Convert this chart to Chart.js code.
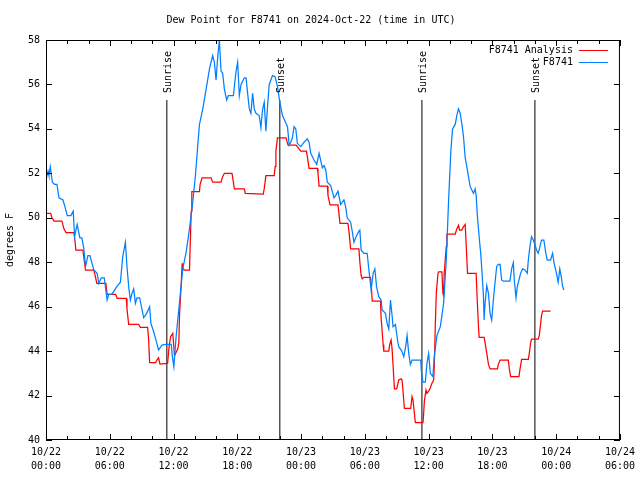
<!DOCTYPE html>
<html>
<head>
<meta charset="utf-8">
<script src="https://cdn.jsdelivr.net/npm/chart.js@4.4.1/dist/chart.umd.min.js"></script>
<style>
  html, body { margin: 0; padding: 0; background: #fff; }
</style>
</head>
<body>
<canvas id="dew" width="640" height="480"></canvas>
<script>
// hours since 10/22 00:00 UTC
const analysisHours = [0,0.44,0.56,0.75,1.5,1.69,1.88,2.63,2.72,2.81,3.47,3.56,3.72,4.5,4.63,4.78,5.63,5.75,6.56,6.69,7.56,7.62,7.78,8.72,8.88,9.56,9.66,9.75,10.31,10.43,10.59,10.72,11.44,11.56,11.72,11.93,12.09,12.4,12.5,12.56,12.72,12.81,12.87,13.03,13.5,13.66,13.72,14.44,14.5,14.69,15.53,15.68,16.47,16.62,16.78,17.5,17.63,17.72,18.66,18.75,20.44,20.53,20.69,21.47,21.56,21.63,21.78,22.59,22.72,22.78,23.53,23.97,24.5,24.59,24.75,25.53,25.59,25.69,26.47,26.53,26.72,27.47,27.56,27.66,28.41,28.5,28.66,29.44,29.53,29.65,29.75,29.91,30.53,30.63,30.69,31.47,31.53,31.72,31.78,32.25,32.34,32.47,32.56,32.65,32.78,33.0,33.09,33.19,33.41,33.5,33.59,33.72,34.31,34.44,34.53,34.66,34.75,35.47,35.53,35.6,35.75,35.84,36.0,36.16,36.31,36.47,36.53,36.63,36.72,36.88,36.94,37.25,37.34,37.41,37.47,37.56,37.66,37.72,38.5,38.65,38.81,38.91,39.12,39.28,39.44,39.53,39.66,40.38,40.47,40.59,40.69,40.75,41.22,41.34,41.47,41.63,41.78,42.47,42.56,42.72,43.5,43.59,43.72,44.5,44.6,44.75,45.38,45.47,45.59,45.68,46.31,46.41,46.53,46.62,46.72,47.47];
const analysisDew = [50.2,50.2,50.0,49.85,49.85,49.5,49.33,49.33,49.0,48.55,48.55,48.2,47.65,47.65,47.4,47.05,47.05,46.55,46.55,46.37,46.37,45.9,45.2,45.2,45.07,45.07,44.5,43.48,43.48,43.6,43.7,43.42,43.45,44.1,44.65,44.8,43.8,44.1,44.4,45.6,47.0,47.95,47.7,47.65,47.65,50.3,51.18,51.18,51.5,51.8,51.8,51.6,51.6,51.85,52.0,52.0,51.6,51.3,51.3,51.1,51.07,51.3,51.9,51.9,52.3,53.0,53.6,53.6,53.35,53.27,53.27,53.0,53.0,52.75,52.22,52.22,52.0,51.43,51.43,51.0,50.58,50.58,50.2,49.75,49.75,49.4,48.6,48.6,48.0,47.4,47.25,47.32,47.32,46.75,46.25,46.25,45.5,44.3,44.0,44.0,44.3,44.5,44.1,43.4,42.3,42.3,42.5,42.7,42.75,42.7,42.2,41.42,41.42,41.95,41.8,41.2,40.78,40.78,41.2,41.75,42.25,42.1,42.2,42.35,42.55,42.7,43.3,45.2,46.6,47.5,47.57,47.57,46.6,46.5,47.5,48.1,48.7,49.27,49.27,49.5,49.67,49.45,49.45,49.6,49.7,48.8,47.5,47.5,47.5,46.1,45.1,44.62,44.62,44.3,43.9,43.4,43.2,43.2,43.4,43.6,43.6,43.2,42.85,42.85,43.2,43.63,43.63,43.9,44.35,44.54,44.54,44.7,45.2,45.6,45.8,45.8];

const stationHours = [0,0.19,0.28,0.4,0.6,0.8,1.03,1.22,1.6,1.78,2.0,2.34,2.56,2.69,2.93,3.19,3.38,3.56,3.72,3.94,4.13,4.5,4.81,4.97,5.2,5.48,5.75,5.9,6.19,6.66,7.0,7.22,7.47,7.62,7.78,7.94,8.09,8.25,8.41,8.56,8.81,9.19,9.47,9.75,9.87,10.13,10.43,10.59,10.9,11.25,11.78,11.88,12.03,12.25,12.56,12.87,13.19,13.5,13.81,14.06,14.28,14.44,14.75,15.07,15.38,15.68,15.84,16.0,16.15,16.31,16.47,16.62,16.78,17.0,17.16,17.63,17.88,18.03,18.19,18.35,18.66,18.82,18.97,19.13,19.28,19.44,19.59,19.75,20.06,20.22,20.37,20.53,20.69,20.84,21.0,21.31,21.56,21.78,22.0,22.25,22.57,22.72,22.88,23.03,23.18,23.34,23.5,23.65,23.97,24.28,24.59,24.75,24.91,25.22,25.47,25.69,25.84,26.0,26.16,26.32,26.47,26.78,26.93,27.09,27.25,27.47,27.72,28.03,28.19,28.34,28.66,28.81,28.97,29.13,29.44,29.53,29.65,29.91,30.22,30.38,30.59,30.78,30.94,31.1,31.31,31.53,31.62,31.94,32.09,32.25,32.41,32.56,32.65,32.88,33.07,33.19,33.47,33.66,33.84,33.97,34.13,34.28,34.44,35.25,35.32,35.47,35.69,35.84,36.0,36.16,36.4,36.53,36.78,37.1,37.41,37.66,37.88,38.09,38.25,38.5,38.65,38.81,38.97,39.12,39.28,39.44,39.59,39.75,39.91,40.22,40.38,40.47,40.59,40.78,40.9,41.03,41.16,41.22,41.31,41.47,41.63,41.78,41.93,42.09,42.25,42.4,42.56,42.72,42.87,43.03,43.65,43.81,43.97,44.06,44.22,44.34,44.5,44.65,44.84,45.06,45.28,45.38,45.53,45.68,45.84,46.0,46.15,46.31,46.47,46.62,46.84,47.03,47.16,47.47,47.66,47.81,48.03,48.19,48.34,48.5,48.59,48.72];
const stationDew = [51.7,52.1,51.9,52.3,51.6,51.5,51.5,50.9,50.8,50.5,50.1,50.1,50.3,49.15,49.7,49.1,49.1,48.6,47.8,48.3,48.3,47.65,47.5,47.05,47.3,47.3,46.3,46.55,46.55,46.9,47.1,48.25,48.9,47.8,46.9,46.3,46.6,46.8,46.15,46.4,46.4,45.5,45.7,46.0,45.25,44.87,44.35,44.05,44.27,44.3,44.3,43.8,43.3,44.7,46.2,47.7,48.47,49.5,50.72,51.9,53.27,54.2,54.9,55.8,56.7,57.3,57.0,56.2,57.2,58.0,56.6,56.5,55.8,55.3,55.5,55.5,56.6,57.0,55.5,56.0,56.3,56.3,55.6,54.9,54.7,55.6,54.9,54.7,54.6,54.05,54.85,55.2,53.9,55.0,56.0,56.4,56.35,55.9,55.2,54.6,54.25,54.1,53.27,53.4,53.6,54.1,54.0,53.35,53.2,53.4,53.55,53.4,52.9,52.6,52.4,52.9,52.6,52.25,52.35,52.15,51.6,51.45,51.2,50.9,51.0,51.2,50.6,50.8,50.5,50.0,49.8,49.4,48.9,49.1,49.4,49.45,48.55,48.4,48.4,47.65,46.75,47.5,47.7,46.9,46.45,46.3,45.85,45.7,45.25,45.0,46.3,45.6,45.1,45.2,44.5,44.2,44.0,43.75,44.2,44.7,43.9,43.4,43.6,43.6,43.1,42.6,42.6,43.45,43.9,43.0,42.85,43.75,44.7,45.1,46.15,48.1,50.8,53.0,54.0,54.2,54.6,54.9,54.7,54.25,53.65,52.7,52.3,51.85,51.4,51.1,51.3,51.0,50.05,49.0,48.4,47.5,46.45,45.4,46.15,46.95,46.6,45.7,45.4,46.3,47.1,47.8,47.9,47.9,47.2,47.15,47.15,47.7,47.98,47.2,46.4,46.9,47.2,47.5,47.7,47.65,47.5,48.1,48.7,49.15,49.0,48.8,48.55,48.4,48.7,49.0,49.0,48.4,48.1,48.1,48.4,47.95,47.5,47.1,47.7,47.3,46.95,46.75];

const sunHours = [11.37, 22.0, 35.37, 46.0];
const sunLabels = ["Sunrise", "Sunset", "Sunrise", "Sunset"];
const sunLineTop = 55.3;

const xTickLabels = [
  ["10/22", "00:00"], ["10/22", "06:00"], ["10/22", "12:00"], ["10/22", "18:00"],
  ["10/23", "00:00"], ["10/23", "06:00"], ["10/23", "12:00"], ["10/23", "18:00"],
  ["10/24", "00:00"], ["10/24", "06:00"]
];

const MONO = "'DejaVu Sans Mono', 'Liberation Mono', monospace";

function pairs(xs, ys) {
  return xs.map((h, i) => ({ x: h, y: ys[i] }));
}

const sunSets = sunHours.map((h, i) => ({
  label: sunLabels[i],
  data: [{ x: h, y: 40 }, { x: h, y: sunLineTop }],
  borderColor: "#000",
  borderWidth: 1,
  pointRadius: 0,
  order: 3,
  sun: true
}));

// frame, inward ticks, sun labels and key drawn gnuplot-style
const gnuplotBits = {
  id: "gnuplotBits",
  afterDraw(chart) {
    const { ctx, chartArea: a, scales: { x, y } } = chart;
    ctx.save();
    ctx.strokeStyle = "#000";
    ctx.lineWidth = 1;
    ctx.strokeRect(a.left + 0.5, a.top + 0.5, a.right - a.left - 1, a.bottom - a.top - 1);

    ctx.beginPath();
    for (let h = 0; h <= 54; h += 2) {
      const px = Math.round(x.getPixelForValue(h)) + 0.5;
      const len = h % 6 === 0 ? 6 : 4;
      ctx.moveTo(px, a.bottom); ctx.lineTo(px, a.bottom - len);
      ctx.moveTo(px, a.top); ctx.lineTo(px, a.top + len);
    }
    for (let v = 40; v <= 58; v += 2) {
      const py = Math.round(y.getPixelForValue(v)) + 0.5;
      ctx.moveTo(a.left, py); ctx.lineTo(a.left + 6, py);
      ctx.moveTo(a.right, py); ctx.lineTo(a.right - 6, py);
    }
    ctx.stroke();

    ctx.fillStyle = "#000";
    ctx.font = "10px " + MONO;
    ctx.textBaseline = "middle";
    ctx.textAlign = "left";
    sunHours.forEach((h, i) => {
      const px = Math.round(x.getPixelForValue(h)) + 1;
      const py = y.getPixelForValue(sunLineTop) - 7;
      ctx.save();
      ctx.translate(px, py);
      ctx.rotate(-Math.PI / 2);
      ctx.fillText(sunLabels[i], 0, 0);
      ctx.restore();
    });

    chart.data.datasets.filter(d => !d.sun).forEach((d, i) => {
      const ty = a.top + 10 + i * 12;
      ctx.textAlign = "right";
      ctx.fillText(d.label, a.right - 47, ty);
      ctx.beginPath();
      ctx.strokeStyle = d.borderColor;
      ctx.moveTo(a.right - 41, Math.round(ty) + 0.5);
      ctx.lineTo(a.right - 12, Math.round(ty) + 0.5);
      ctx.stroke();
    });
    ctx.restore();
  }
};

new Chart(document.getElementById("dew"), {
  type: "line",
  data: {
    datasets: [
      { label: "F8741 Analysis", data: pairs(analysisHours, analysisDew), borderColor: "#ff0000", borderWidth: 1.25, pointRadius: 0, order: 2 },
      { label: "F8741", data: pairs(stationHours, stationDew), borderColor: "#0080ff", borderWidth: 1.25, pointRadius: 0, order: 1 },
      ...sunSets
    ]
  },
  options: {
    responsive: false,
    animation: false,
    events: [],
    layout: { padding: { left: 0, right: 18, top: 0, bottom: 0 } },
    plugins: {
      legend: { display: false },
      tooltip: { enabled: false },
      title: {
        display: true,
        text: "Dew Point for F8741 on 2024-Oct-22 (time in UTC)",
        color: "#000",
        font: { family: MONO, size: 10, weight: "normal", lineHeight: 1.2 },
        padding: { top: 14, bottom: 14 }
      }
    },
    scales: {
      x: {
        type: "linear",
        min: 0,
        max: 54,
        grid: { display: false, drawTicks: false },
        border: { display: false },
        ticks: {
          stepSize: 6,
          autoSkip: false,
          maxRotation: 0,
          padding: 5,
          color: "#000",
          font: { family: MONO, size: 10, lineHeight: 1.4 },
          callback: v => xTickLabels[Math.round(v / 6)]
        },
        afterFit: s => { s.height = 40; }
      },
      y: {
        min: 40,
        max: 58,
        grid: { display: false, drawTicks: false },
        border: { display: false },
        ticks: {
          stepSize: 2,
          padding: 6,
          color: "#000",
          font: { family: MONO, size: 10 }
        },
        title: {
          display: true,
          text: "degrees F",
          color: "#000",
          font: { family: MONO, size: 10, lineHeight: 1.2 },
          padding: { top: 4, bottom: 0 }
        },
        afterFit: s => { s.width = 46; }
      }
    }
  },
  plugins: [gnuplotBits]
});
</script>
</body>
</html>
